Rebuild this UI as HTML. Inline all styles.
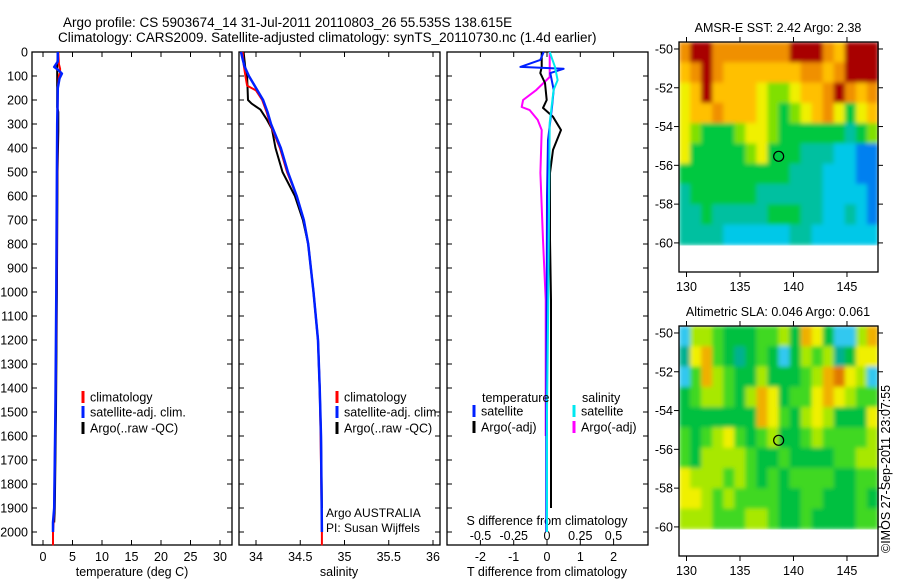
<!DOCTYPE html>
<html><head><meta charset="utf-8">
<style>
html,body{margin:0;padding:0;background:#fff;}
svg{display:block;font-family:"Liberation Sans",sans-serif;}
</style></head>
<body>
<svg id="fig" width="900" height="580" viewBox="0 0 900 580" xmlns="http://www.w3.org/2000/svg">
<defs>
<filter id="soft" x="0" y="0" width="1" height="1"><feGaussianBlur stdDeviation="2.2" edgeMode="duplicate"/></filter>
</defs>
<rect width="900" height="580" fill="#fff"/>
<text x="63" y="27" font-size="13.5">Argo profile: CS 5903674_14 31-Jul-2011 20110803_26 55.535S 138.615E</text>
<text x="58" y="42" font-size="13.5">Climatology: CARS2009. Satellite-adjusted climatology: synTS_20110730.nc (1.4d earlier)</text>
<g id="g"></g>
<text transform="translate(890,553) rotate(-90)" font-size="12.5">©IMOS 27-Sep-2011 23:07:55</text>
</svg>
<script>
// ---- profile data ----
const depthLabels=[0,100,200,300,400,500,600,700,800,900,1000,1100,1200,1300,1400,1500,1600,1700,1800,1900,2000];
const tempTicks=[0,5,10,15,20,25,30];
const salTicks=[34,34.5,35,35.5,36];
const tdTicks=[-2,-1,0,1,2];
const sdTicks=[-0.5,-0.25,0,0.25,0.5];
const sdTickLabels=['-0.5','-0.25','0','0.25','0.5'];

const climT_d=[0,50,70,85,100,150,300,500,1000,1500,1900,1960,2000,2055];
const climT_v=[2.6,2.7,2.9,2.9,2.7,2.5,2.45,2.4,2.3,2.1,1.9,1.8,1.7,1.7];
const satT_d=[0,40,62,75,90,110,150,300,500,1000,1500,1900,1960,2000];
const satT_v=[2.5,2.5,1.9,2.6,3.2,2.8,2.5,2.4,2.35,2.25,2.1,1.9,1.7,1.7];
const argoT_d=[0,60,100,230,250,330,500,1000,1500,1900,1960];
const argoT_v=[2.5,2.4,2.4,2.4,2.6,2.6,2.45,2.35,2.2,2.0,1.9];

const climS_d=[0,50,100,140,160,200,250,300,400,500,600,700,800,1000,1200,1400,1600,2000,2055];
const climS_v=[33.85,33.86,33.88,33.9,34.0,34.07,34.12,34.16,34.27,34.35,34.46,34.54,34.59,34.65,34.7,34.72,34.73,34.745,34.745];
const satS_d=[0,30,60,100,150,200,250,300,400,500,600,700,800,1000,1200,1400,1600,2000];
const satS_v=[33.83,33.85,33.87,33.92,34.0,34.08,34.13,34.17,34.28,34.36,34.46,34.54,34.59,34.65,34.7,34.72,34.735,34.745];
const argoS_d=[0,70,100,200,215,240,280,320,400,500,600,700,800,1000,1200,1400,1600,1900];
const argoS_v=[33.86,33.88,33.9,33.91,33.95,34.05,34.12,34.18,34.22,34.3,34.44,34.53,34.59,34.65,34.7,34.72,34.735,34.745];

const dT_sat_d=[0,33,62,70,88,158,229,367,600,1033,1500,2000];
const dT_sat_v=[-0.1,-0.2,-0.8,0.5,0.1,0.2,0.15,0.03,0.0,-0.01,-0.02,-0.02];
const dT_argo_d=[0,63,88,129,200,233,270,325,408,504,783,1033,1500,1900];
const dT_argo_v=[-0.16,-0.16,-0.2,-0.06,-0.01,-0.12,0.18,0.42,0.18,0.09,0.09,0.12,0.12,0.12];
const dS_sat_d=[0,62,117,158,296,1033,1500,2000];
const dS_sat_v=[0.02,0.06,0.08,0.05,0.02,0.01,0.0,0.0];
const dS_argo_d=[0,104,158,200,229,242,283,325,504,783,1033,1500,1600];
const dS_argo_v=[0.02,0.02,-0.08,-0.18,-0.19,-0.13,-0.07,-0.04,-0.05,-0.03,-0.01,-0.01,-0.01];

// ---- map data (10 lat rows x 18 lon cols, colour class) ----
const sstGrid=[
[8,9,9,8,8,8,8,8,8,8,9,9,9,8,7,9,9,9],
[7,8,9,8,7,7,7,7,7,7,7,8,8,7,8,9,9,9],
[6,7,9,7,7,7,7,6,5,5,6,7,7,8,9,8,7,8],
[6,7,7,8,7,7,7,6,5,4,5,6,7,8,6,4,6,7],
[6,5,4,4,4,5,6,6,5,4,4,4,4,4,4,3,4,5],
[6,4,4,4,4,4,5,6,4,4,4,3,3,3,2,2,1,1],
[4,4,4,4,4,4,4,4,4,4,3,3,3,2,2,2,1,1],
[3,4,4,4,4,4,4,3,3,3,3,3,3,2,2,2,2,1],
[3,3,4,3,3,3,3,3,4,4,4,3,3,2,2,3,2,1],
[3,3,3,3,2,2,2,2,2,2,3,3,2,2,2,2,2,2]];
const slaGrid=[
[1,5,5,4,3,3,3,4,4,5,3,7,6,3,1,1,5,7],
[2,6,7,4,3,2,3,4,3,1,3,5,4,5,2,3,6,6],
[1,4,7,5,4,3,3,5,3,3,3,4,5,7,8,6,5,1],
[3,4,5,5,4,3,5,7,6,3,4,4,6,7,6,5,4,4],
[3,3,3,3,3,3,3,7,6,4,3,5,6,5,3,3,3,6],
[4,3,4,5,6,4,3,4,5,3,3,4,5,4,4,4,4,5],
[4,3,5,5,5,5,4,3,3,4,3,3,3,3,4,4,5,5],
[6,5,5,5,4,5,4,3,4,3,4,4,4,4,3,3,4,4],
[6,6,5,4,5,4,4,4,4,3,3,4,4,3,3,3,4,3],
[5,5,5,4,4,4,5,5,4,3,3,4,3,3,3,3,4,4]];
const sstColors=['#0030d0','#0080f0','#00c8e8','#00c0a0','#00c840','#80e000','#f0f000','#ffc000','#f09000','#a80000'];
const slaColors=['#0050e0','#30c8f0','#00b090','#00c040','#40d820','#a8e800','#f0f000','#f0b000','#e07800'];
const lonTicks=[130,135,140,145];
const latTicks=[-50,-52,-54,-56,-58,-60];
const argoLon=138.615, argoLat=-55.535;

// ---- helpers ----
const NS='http://www.w3.org/2000/svg';
const G=document.getElementById('g');
function mk(tag,attrs,parent){const e=document.createElementNS(NS,tag);for(const k in attrs)e.setAttribute(k,attrs[k]);(parent||G).appendChild(e);return e;}
function txt(x,y,s,size,anchor){const e=mk('text',{x:x,y:y,'font-size':size||12.5,'text-anchor':anchor||'start'});e.textContent=s;return e;}
const Y0=52,PXM=0.24,YB=545;
const yD=d=>Y0+d*PXM;
const panels=[
 {x0:32,x1:232,sx:v=>43+v*5.9},
 {x0:239,x1:440,sx:v=>256+(v-34)*88.5},
 {x0:447,x1:648,sx:v=>547+v*33.3}
];
const sxS=v=>547+v*133;

panels.forEach((p,i)=>{
 const f=mk('rect',{x:p.x0,y:Y0,width:p.x1-p.x0,height:YB-Y0,fill:'none',stroke:'#000','stroke-width':1.3});
 
 
 depthLabels.forEach(d=>{
   mk('line',{x1:p.x0,x2:p.x0+5,y1:yD(d),y2:yD(d),stroke:'#000'});
   mk('line',{x1:p.x1,x2:p.x1-5,y1:yD(d),y2:yD(d),stroke:'#000'});
 });
});
depthLabels.forEach(d=>{
 const t=txt(28,yD(d)+4.5,String(d),12.5,'end');
 
 
});
function xticks(p,ticks,labels,name){
 ticks.forEach((v,i)=>{
  const x=p.sx(v);
  mk('line',{x1:x,x2:x,y1:YB,y2:YB-5,stroke:'#000'});
  mk('line',{x1:x,x2:x,y1:Y0,y2:Y0+5,stroke:'#000'});
  const t=txt(x,561,labels?labels[i]:String(v),12.5,'middle');
  
  
 });
}
xticks(panels[0],tempTicks,null,'temperature-tick-label');
xticks(panels[1],salTicks,null,'salinity-tick-label');
xticks(panels[2],tdTicks,null,'t-diff-tick-label');
sdTicks.forEach((v,i)=>{
 const t=txt(sxS(v),540,sdTickLabels[i],12.5,'middle');
 
 
});
let t;
t=txt(132,576,'temperature (deg C)',12.5,'middle');
t=txt(339,576,'salinity',12.5,'middle');
t=txt(547,576,'T difference from climatology',12.5,'middle');
t=txt(547,525,'S difference from climatology',12.5,'middle');
t=txt(326,517,'Argo AUSTRALIA',12);
t=txt(326,532,'PI: Susan Wijffels',12);

function line(ds,vs,sx,color,w,name){
 const pts=ds.map((d,i)=>sx(vs[i]).toFixed(1)+','+yD(d).toFixed(1)).join(' ');
 const e=mk('polyline',{points:pts,fill:'none',stroke:color,'stroke-width':w,'stroke-linejoin':'round'});
 
 
}
line(argoT_d,argoT_v,panels[0].sx,'#000',2,'argo-temperature-line');
line(climT_d,climT_v,panels[0].sx,'#f00',2,'climatology-temperature-line');
line(satT_d,satT_v,panels[0].sx,'#0020ff',2.5,'satellite-temperature-line');
line(argoS_d,argoS_v,panels[1].sx,'#000',2,'argo-salinity-line');
line(climS_d,climS_v,panels[1].sx,'#f00',2,'climatology-salinity-line');
line(satS_d,satS_v,panels[1].sx,'#0020ff',2.5,'satellite-salinity-line');
line(dS_argo_d,dS_argo_v,sxS,'#ff00ff',2,'argo-s-diff-line');
line(dT_argo_d,dT_argo_v,panels[2].sx,'#000',2,'argo-t-diff-line');
line(dT_sat_d,dT_sat_v,panels[2].sx,'#0020ff',2,'satellite-t-diff-line');
line(dS_sat_d,dS_sat_v,sxS,'#00e8f0',2,'satellite-s-diff-line');

function legend(x,y,color,label,name){
 const m=mk('rect',{x:x-1.5,y:y-6,width:3,height:12,fill:color});
 
 
 const tt=txt(x+7,y+4.5,label,12.5);
 
 
}
legend(83,397,'#f00','climatology','legend-climatology');
legend(83,412,'#0020ff','satellite-adj. clim.','legend-satellite');
legend(83,428,'#000','Argo(..raw -QC)','legend-argo');
legend(337,397,'#f00','climatology','legend-climatology-2');
legend(337,412,'#0020ff','satellite-adj. clim.','legend-satellite-2');
legend(337,428,'#000','Argo(..raw -QC)','legend-argo-2');
t=txt(482,402,'temperature',12.5);
t=txt(582,402,'salinity',12.5);
legend(474,411,'#0020ff','satellite','legend-t-satellite');
legend(474,427,'#000','Argo(-adj)','legend-t-argo');
legend(574,411,'#00e8f0','satellite','legend-s-satellite');
legend(574,427,'#ff00ff','Argo(-adj)','legend-s-argo');

// ---- maps ----
function map(top,grid,colors,title,name){
 const X0=679,X1=878,H=230;
 const lonMin=129.3,lonMax=147.9;
 const latTop=-49.64,latBot=-61.5;
 const sx=lo=>X0+(lo-lonMin)/(lonMax-lonMin)*(X1-X0);
 const sy=la=>top+(la-latTop)/(latBot-latTop)*H;
 const rows=grid.length,cols=grid[0].length;
 const dLat=(-60.1-latTop)/rows,dLon=(lonMax-lonMin)/cols;
 const cg=mk('g',{filter:'url(#soft)'});
 
 
 grid.forEach((row,r)=>row.forEach((v,c)=>{
  const xa=sx(lonMin+c*dLon),xb=sx(lonMin+(c+1)*dLon);
  const ya=sy(latTop+r*dLat),yb=sy(latTop+(r+1)*dLat);
  const cell=mk('rect',{x:xa.toFixed(2),y:ya.toFixed(2),width:(xb-xa+0.6).toFixed(2),height:(yb-ya+0.6).toFixed(2),fill:colors[v]},cg);
  
  
 }));
 const f=mk('rect',{x:X0,y:top,width:X1-X0,height:H,fill:'none',stroke:'#000','stroke-width':1.3});
 
 
 lonTicks.forEach(lo=>{
  const x=sx(lo);
  mk('line',{x1:x,x2:x,y1:top,y2:top-5,stroke:'#000'});
  mk('line',{x1:x,x2:x,y1:top+H,y2:top+H+5,stroke:'#000'});
  const tt=txt(x,top+H+19,String(lo),12.5,'middle');
  
  
 });
 latTicks.forEach(la=>{
  const y=sy(la);
  mk('line',{x1:X0,x2:X0-5,y1:y,y2:y,stroke:'#000'});
  mk('line',{x1:X1,x2:X1+5,y1:y,y2:y,stroke:'#000'});
  const tt=txt(673,y+4.5,String(la),12.5,'end');
  
  
 });
 const c=mk('circle',{cx:sx(argoLon),cy:sy(argoLat),r:5,fill:'none',stroke:'#000','stroke-width':1.2});
 
 
 const tt=txt(778,top-10,title,12.5,'middle');
 
 
}
map(42,sstGrid,sstColors,'AMSR-E SST: 2.42 Argo: 2.38','sst-map');
map(326,slaGrid,slaColors,'Altimetric SLA: 0.046 Argo: 0.061','sla-map');
</script>
</body></html>
